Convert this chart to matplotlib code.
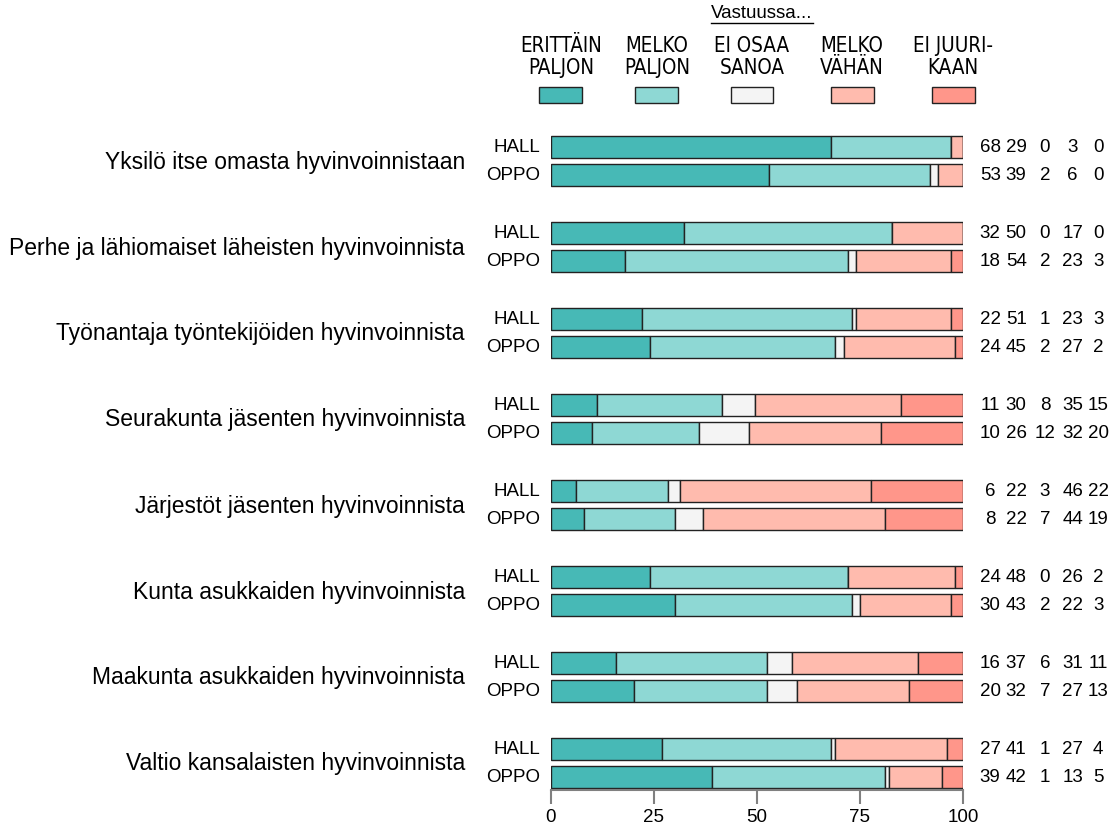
#!/usr/bin/env python3
"""Stacked likert bars: who is responsible for wellbeing (HALL vs OPPO)."""

import numpy as np
import matplotlib
matplotlib.use('Agg')
import matplotlib.pyplot as plt
from matplotlib.patches import Rectangle

plt.rcParams['font.family'] = ['Liberation Sans', 'DejaVu Sans']

# Data
categories = [
    'Yksilö itse omasta hyvinvoinnistaan',
    'Perhe ja lähiomaiset läheisten hyvinvoinnista',
    'Työnantaja työntekijöiden hyvinvoinnista',
    'Seurakunta jäsenten hyvinvoinnista',
    'Järjestöt jäsenten hyvinvoinnista',
    'Kunta asukkaiden hyvinvoinnista',
    'Maakunta asukkaiden hyvinvoinnista',
    'Valtio kansalaisten hyvinvoinnista',
]
groups = ['HALL', 'OPPO']
answer_labels = ['ERITTÄIN\nPALJON', 'MELKO\nPALJON', 'EI OSAA\nSANOA',
                 'MELKO\nVÄHÄN', 'EI JUURI-\nKAAN']
legend_title = 'Vastuussa...'

hall = [
    [68, 29, 0, 3, 0],
    [32, 50, 0, 17, 0],
    [22, 51, 1, 23, 3],
    [11, 30, 8, 35, 15],
    [6, 22, 3, 46, 22],
    [24, 48, 0, 26, 2],
    [16, 37, 6, 31, 11],
    [27, 41, 1, 27, 4],
]
oppo = [
    [53, 39, 2, 6, 0],
    [18, 54, 2, 23, 3],
    [24, 45, 2, 27, 2],
    [10, 26, 12, 32, 20],
    [8, 22, 7, 44, 19],
    [30, 43, 2, 22, 3],
    [20, 32, 7, 27, 13],
    [39, 42, 1, 13, 5],
]

colors = ['#47b9b6', '#8ed8d4', '#f4f4f4', '#ffbbae', '#ff968a']
xticks = [0, 25, 50, 75, 100]

FS = 13.5
W, H = 1120, 829
row_offset = 28 / 86
bar_h = 22 / 86
# x (in bar units) where the five count columns are centred
num_cols = [106.6, 112.9, 119.9, 126.6, 132.8]

fig = plt.figure(figsize=(W / 100, H / 100), dpi=100)
left, right = 551 / W, 963 / W
bottom, top = 1 - 791 / H, 1 - 136 / H
ax = fig.add_axes([left, bottom, right - left, top - bottom])

for g, cat in enumerate(categories):
    for k, vals in enumerate([hall[g], oppo[g]]):
        y = g + k * row_offset
        vals = np.array(vals, dtype=float)
        pct = vals / vals.sum() * 100
        starts = np.concatenate([[0], np.cumsum(pct)[:-1]])
        ax.barh(y, pct, left=starts, height=bar_h, color=colors,
                edgecolor='#222222', linewidth=1.0)
        ax.text(-2.7, y, groups[k], ha='right', va='center', fontsize=FS)
        for cx, v in zip(num_cols, vals):
            ax.text(cx, y, f'{int(v)}', ha='center', va='center', fontsize=FS)
    ax.text(-20.9, g + row_offset / 2, cat, ha='right', va='center',
            fontsize=16.5)

ax.set_xlim(0, 100)
ax.set_ylim(7 + row_offset + bar_h / 2 + 2 / 86, -bar_h / 2 - 1 / 86)
ax.set_xticks(xticks)
ax.set_xticklabels([str(t) for t in xticks], fontsize=FS)
ax.set_yticks([])
for s in ['top', 'right', 'left']:
    ax.spines[s].set_visible(False)
ax.spines['bottom'].set_color('#808080')
ax.spines['bottom'].set_linewidth(1.5)
ax.spines['bottom'].set_bounds(0, 100)
ax.tick_params(axis='x', color='#808080', width=1.5, length=10, pad=3)

# Legend block at the top
lax = fig.add_axes([left, 1 - 115 / H, right - left, 115 / H])
lax.set_xlim(0, 100)
lax.set_ylim(115, 0)
lax.axis('off')
leg_x = [2.4, 25.7, 48.8, 73.1, 97.6]
for x, lab, c in zip(leg_x, answer_labels, colors):
    lax.add_patch(Rectangle((x - 5.2, 88), 10.4, 16, facecolor=c,
                            edgecolor='#222222', linewidth=1.0, clip_on=False))
    lax.text(x, 57, lab, ha='center', va='center', fontsize=14.8,
             family='DejaVu Sans', fontstretch='condensed',
             linespacing=1.1, clip_on=False)
title = lax.text(51.2, 14, legend_title, ha='center', va='center', fontsize=FS)
fig.canvas.draw()
bb = title.get_window_extent().transformed(lax.transData.inverted())
uy = max(bb.y0, bb.y1) + 1.5
lax.plot([bb.x0, bb.x1], [uy, uy], color='black', lw=1, clip_on=False)

fig.savefig('out.png', dpi=100)
